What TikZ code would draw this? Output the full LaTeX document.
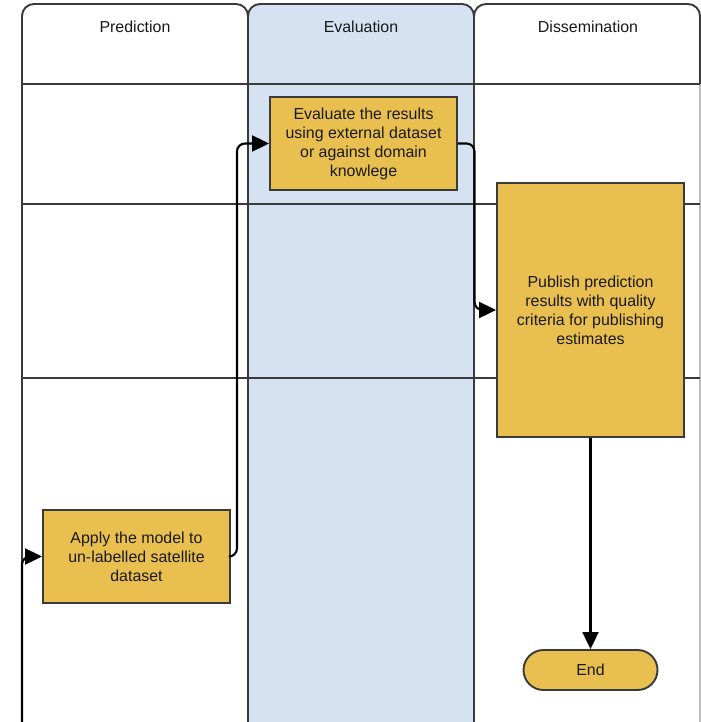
\documentclass[tikz,border=0pt]{standalone}
\usepackage{fontspec}
\setmainfont{Liberation Sans}
\usetikzlibrary{arrows.meta}
\definecolor{edge}{HTML}{3A3A3A}
\definecolor{lanefill}{HTML}{D4E2F1}
\definecolor{taskfill}{HTML}{E9C04F}
\definecolor{rimgray}{HTML}{BDBDBD}
\tikzset{
  lane/.style={draw=edge, line width=1.9bp, rounded corners=12bp},
  rowline/.style={draw=edge, line width=1.7bp},
  task/.style={draw=edge, fill=taskfill, line width=1.9bp, align=center,
    font=\fontsize{16}{19}\selectfont, text=black!90, inner sep=0pt},
  terminal/.style={task, rounded corners=20bp},
  header/.style={font=\fontsize{16}{19}\selectfont, text=black!90},
  flow/.style={draw=black, line width=2.1bp, rounded corners=8bp,
    -{Triangle[length=17bp,width=16bp]}}
}
\begin{document}
\begin{tikzpicture}[x=1bp,y=-1bp]
\useasboundingbox (0,0) rectangle (701,722);
% swimlanes (open at the bottom)
\filldraw[lane, fill=white]    (22,740) -- (22,4) -- (248,4) -- (248,740);
\filldraw[lane, fill=lanefill] (248,740) -- (248,4) -- (474,4) -- (474,740);
\filldraw[lane, fill=white]    (474,740) -- (474,4) -- (700,4) -- (700,740);
\draw[rimgray, line width=1.9bp] (700,84) -- (700,740);
% lane titles
\node[header] (tpred) at (135,27) {Prediction};
\node[header] (teval) at (361,27) {Evaluation};
\node[header] (tdiss) at (588,27) {Dissemination};
% row separators
\foreach \yy in {84,204,378} \draw[rowline] (22,\yy) -- (700,\yy);
% tasks
\node[task, minimum width=187bp, minimum height=93bp] (eval) at (363.5,143.5)
  {Evaluate the results\\using external dataset\\or against domain\\knowlege};
\node[task, minimum width=187bp, minimum height=254bp] (pub) at (590.5,310)
  {Publish prediction\\results with quality\\criteria for publishing\\estimates};
\node[task, minimum width=187bp, minimum height=93bp] (apply) at (136.5,556.5)
  {Apply the model to\\un-labelled satellite\\dataset};
\node[terminal, minimum width=134bp, minimum height=40bp] (end) at (590.5,670) {End};
% flow
\coordinate (start) at (22,740);
\draw[flow] (start) |- (apply.west);
\draw[flow] (apply.east) -- ++(6,0) |- (eval.west);
\draw[flow] (eval.east) -- (474.5,143.5) |- (pub.west);
\draw[flow] (pub.south) -- (end.north);
\end{tikzpicture}
\end{document}
